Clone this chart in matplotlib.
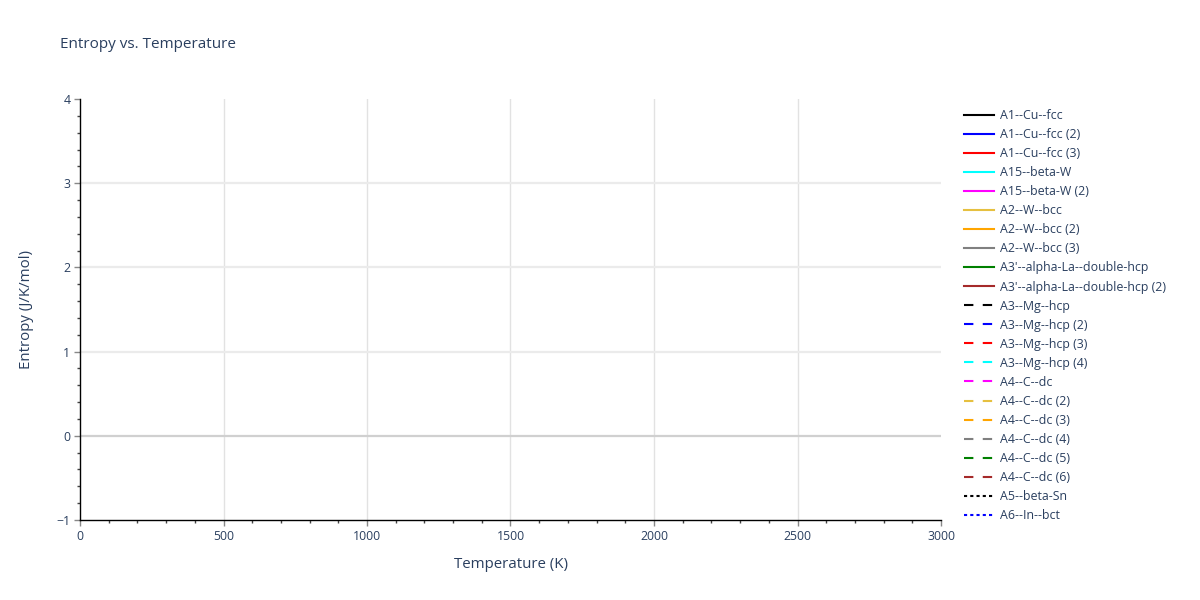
import numpy as np
import matplotlib
matplotlib.use("Agg")
import matplotlib.pyplot as plt

plt.rcParams["font.family"] = ["Open Sans", "DejaVu Sans"]

# traces (no data points in the reference, only legend entries)
names = [
    "A1--Cu--fcc", "A1--Cu--fcc (2)", "A1--Cu--fcc (3)",
    "A15--beta-W", "A15--beta-W (2)",
    "A2--W--bcc", "A2--W--bcc (2)", "A2--W--bcc (3)",
    "A3'--alpha-La--double-hcp", "A3'--alpha-La--double-hcp (2)",
    "A3--Mg--hcp", "A3--Mg--hcp (2)", "A3--Mg--hcp (3)", "A3--Mg--hcp (4)",
    "A4--C--dc", "A4--C--dc (2)", "A4--C--dc (3)", "A4--C--dc (4)",
    "A4--C--dc (5)", "A4--C--dc (6)",
    "A5--beta-Sn", "A6--In--bct",
]
palette = ["black", "blue", "red", "cyan", "magenta",
           "#e6c040", "orange", "gray", "green", "#a52a2a"]
dashes = ["solid"] * 10 + ["dash"] * 10 + ["dot"] * 2
temperature = []   # K
entropy = []       # J/K/mol

x_ticks = [0, 500, 1000, 1500, 2000, 2500, 3000]
y_ticks = [-1, 0, 1, 2, 3, 4]

dash_map = {"solid": "-", "dash": (0, (4.5, 4.5)), "dot": (0, (1.5, 1.5))}
txt = "#2a3f5f"

fig = plt.figure(figsize=(12, 6), dpi=100)
ax = fig.add_axes([80 / 1200, 80 / 600, 861 / 1200, 421 / 600])

for i, name in enumerate(names):
    ax.plot(temperature, entropy, color=palette[i % len(palette)],
            linestyle=dash_map[dashes[i]], linewidth=1.5, label=name)

ax.set_xlim(0, 3000)
ax.set_ylim(-1, 4)

# grid
for xv in x_ticks[1:-1]:
    ax.axvline(xv, color="#e2e2e2", linewidth=1.0, zorder=0)
for yv in y_ticks[1:-1]:
    if yv == 0:
        ax.axhline(yv, color="#d0d0d0", linewidth=1.6, zorder=0)
    else:
        ax.axhline(yv, color="#ebebeb", linewidth=1.6, zorder=0)

for s in ["top", "right"]:
    ax.spines[s].set_visible(False)
for s in ["left", "bottom"]:
    ax.spines[s].set_color("black")
    ax.spines[s].set_linewidth(1.0)

ax.set_xticks(x_ticks)
ax.set_yticks(y_ticks)
ax.set_xticks(np.arange(0, 3001, 100), minor=True)
ax.set_yticks(np.arange(-1, 4.01, 0.2), minor=True)
ax.tick_params(which="major", direction="out", length=4, width=1,
               color="#888888", labelcolor=txt, labelsize=8.8, pad=3)
ax.tick_params(which="minor", direction="out", length=2.5, width=1,
               color="#444444")

ax.set_xlabel("Temperature (K)", fontsize=10.8, color=txt, labelpad=10)
ax.set_ylabel("Entropy (J/K/mol)", fontsize=10.8, color=txt, labelpad=16)
fig.text(60 / 1200, 1 - 45 / 600, "Entropy vs. Temperature",
         fontsize=11.0, color=txt, va="center", ha="left")

leg = fig.legend(loc="upper left", bbox_to_anchor=(964 / 1200, 1 - 109 / 600),
                 frameon=False, fontsize=8.9, handlelength=2.45,
                 handletextpad=0.5, labelspacing=0.49, borderpad=0,
                 borderaxespad=0)
for t in leg.get_texts():
    t.set_color(txt)

fig.savefig("out.png", dpi=100)
